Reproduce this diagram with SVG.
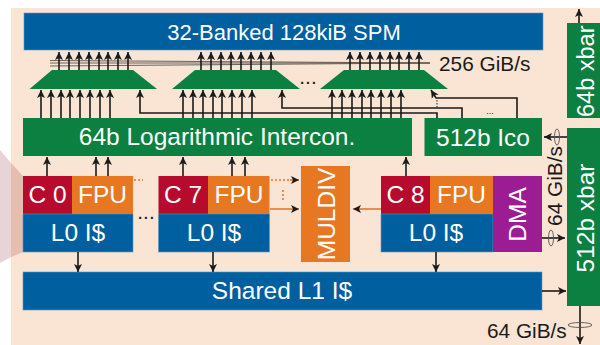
<svg xmlns="http://www.w3.org/2000/svg" width="600" height="345" viewBox="0 0 600 345">
<style>
text{font-family:"Liberation Sans",Arial,sans-serif;fill:#fff;font-size:24.5px;text-anchor:middle}
.l{fill:#1a1a1a;font-size:20.8px}
.b{fill:#005f9e;stroke:#5b9ac0;stroke-width:.6}.g{fill:#0b8040}.r{fill:#b70b2d}.o{fill:#e87722}.p{fill:#9c1c94}
.c line,.c path{fill:none;stroke:#1a1a1a;stroke-width:1.6}
.c .u{marker-end:url(#a)}
.c .t{stroke:#555;stroke-width:.9}
.c .or{stroke:#e87722;marker-end:url(#a)}
.c .do{stroke:#e87722;stroke-dasharray:2 2}
.c .dk{stroke-dasharray:1.5 1.5;stroke-width:1}
.c ellipse{fill:none;stroke:#555;stroke-width:.9}
</style>
<defs>
<marker id="a" markerUnits="userSpaceOnUse" markerWidth="10" markerHeight="10" refX="8" refY="5" orient="auto"><path d="M0 1L8 5L0 9L2 5Z" fill="#1a1a1a"/></marker>
</defs>
<rect x="11" y="8" width="589" height="337" fill="#fae4d4"/>
<path d="M0 150L11 163V257L0 263Z" fill="#e8d3d6"/>
<path d="M11 163L23 176V252L11 257Z" fill="#e7bdb0"/>
<g id="spm"><rect class="b" x="24" y="13" width="519" height="37"/><text x="284" y="40" style="font-size:22px">32-Banked 128kiB SPM</text></g>
<g id="mux1"><path class="g" d="M29.500 89H157L133 70H52Z"/></g>
<g id="mux2"><path class="g" d="M172 89H300L276 70H195Z"/></g>
<g id="mux3"><path class="g" d="M320 89H448L424 70H344Z"/></g>
<g id="intercon"><rect class="g" x="23" y="118" width="389" height="38"/><text x="217" y="144.500">64b Logarithmic Intercon.</text></g>
<g id="ico"><rect class="g" x="424.500" y="118" width="117.500" height="38"/><text x="483" y="146">512b Ico</text></g>
<g id="xbar64"><rect class="g" x="567" y="23" width="33" height="95"/><text transform="translate(594 117) rotate(-90)" style="text-anchor:start;font-size:23.5px">64b xbar</text></g>
<g id="xbar512"><rect class="g" x="567" y="128" width="33" height="178"/><text transform="translate(594 218) rotate(-90)">512b xbar</text></g>
<g id="core0"><rect class="r" x="23" y="176" width="49" height="38"/><rect class="o" x="72" y="176" width="61" height="38"/><rect class="b" x="23" y="214" width="110" height="38"/><text x="47.500" y="203">C 0</text><text x="102.500" y="203">FPU</text><text x="78" y="241">L0 I$</text></g>
<g id="core7"><rect class="r" x="158.500" y="176" width="49.500" height="38"/><rect class="o" x="208" y="176" width="61.500" height="38"/><rect class="b" x="158.500" y="214" width="111" height="38"/><text x="183" y="203">C 7</text><text x="239" y="203">FPU</text><text x="214" y="241">L0 I$</text></g>
<g id="core8"><rect class="r" x="381" y="176" width="49" height="38"/><rect class="o" x="430" y="176" width="63" height="38"/><rect class="b" x="381" y="214" width="112" height="38"/><text x="405.500" y="203">C 8</text><text x="461.500" y="203">FPU</text><text x="436" y="241">L0 I$</text></g>
<g id="dma"><rect class="p" x="493" y="176" width="49" height="76"/><text transform="translate(526 214.500) rotate(-90)">DMA</text></g>
<g id="muldiv"><rect class="o" x="301" y="166" width="49" height="96"/><text transform="translate(335 214) rotate(-90)">MULDIV</text></g>
<g id="shared"><rect class="b" x="23" y="272" width="519" height="38"/><text x="282" y="299">Shared L1 I$</text></g>
<g id="connectors" class="c">
<line class="t" x1="50" y1="60.500" x2="430" y2="63"/><line class="t" x1="50" y1="66" x2="430" y2="63"/><line class="t" x1="50" y1="63" x2="430" y2="63"/>
<path class="u" d="M59 70V52"/><path class="u" d="M69 70V52"/><path class="u" d="M79 70V52"/><path class="u" d="M89 70V52"/><path class="u" d="M99 70V52"/><path class="u" d="M108 70V52"/><path class="u" d="M118 70V52"/><path class="u" d="M128 70V52"/>
<path class="u" d="M201 70V52"/><path class="u" d="M211 70V52"/><path class="u" d="M221 70V52"/><path class="u" d="M231 70V52"/><path class="u" d="M241 70V52"/><path class="u" d="M251 70V52"/><path class="u" d="M261 70V52"/><path class="u" d="M271 70V52"/>
<path class="u" d="M350 70V52"/><path class="u" d="M360 70V52"/><path class="u" d="M370 70V52"/><path class="u" d="M380 70V52"/><path class="u" d="M390 70V52"/><path class="u" d="M399 70V52"/><path class="u" d="M409 70V52"/><path class="u" d="M419 70V52"/>
<path class="u" d="M41 118V90"/><path class="u" d="M51 118V90"/><path class="u" d="M61 118V90"/><path class="u" d="M70 118V90"/><path class="u" d="M80 118V90"/><path class="u" d="M90 118V90"/><path class="u" d="M100 118V90"/><path class="u" d="M110 118V90"/>
<path class="u" d="M183 118V90"/><path class="u" d="M193 118V90"/><path class="u" d="M203 118V90"/><path class="u" d="M213 118V90"/><path class="u" d="M222 118V90"/><path class="u" d="M232 118V90"/><path class="u" d="M242 118V90"/><path class="u" d="M252 118V90"/>
<path class="u" d="M332 118V90"/><path class="u" d="M342 118V90"/><path class="u" d="M352 118V90"/><path class="u" d="M362 118V90"/><path class="u" d="M371 118V90"/><path class="u" d="M381 118V90"/><path class="u" d="M391 118V90"/><path class="u" d="M401 118V90"/>
<path class="u" d="M437 118V113H140V90"/><path class="u" d="M462 118V108H282V90"/>
<path class="u" d="M517 118V98H436L431 90"/>
<line class="dk" x1="437" y1="100" x2="437" y2="108"/>
<path class="u" d="M47 176V157"/><path class="u" d="M96 176V157"/><path class="u" d="M108 176V157"/>
<path class="u" d="M183 176V157"/><path class="u" d="M232 176V157"/><path class="u" d="M245 176V157"/>
<path class="u" d="M406 176V157"/>
<path class="u" d="M78 252V272"/><path class="u" d="M213 252V272"/><path class="u" d="M436 252V272"/>
<line class="do" x1="134" y1="180" x2="143" y2="180"/>
<line class="do" x1="271" y1="180" x2="290" y2="180"/><line class="or" x1="290" y1="180" x2="299" y2="180"/>
<line class="or" x1="270" y1="209" x2="299" y2="209"/>
<line class="do" x1="283" y1="190" x2="283" y2="200"/>
<line class="or" x1="381" y1="209" x2="353" y2="209"/>
<line class="u" x1="567" y1="137" x2="544" y2="137"/><ellipse cx="557" cy="137" rx="2.500" ry="8"/>
<line class="u" x1="579" y1="23" x2="579" y2="9"/>
<line class="u" x1="542" y1="238" x2="565" y2="238"/><ellipse cx="551" cy="238" rx="2.500" ry="8"/>
<line class="u" x1="542" y1="291" x2="566" y2="291"/>
<line class="u" x1="580" y1="306" x2="580" y2="344"/><ellipse cx="580" cy="325" rx="12" ry="2.500"/>
</g>
<g id="labels">
<text class="l" x="439" y="71" style="text-anchor:start">256 GiB/s</text>
<text class="l" x="487" y="338" style="text-anchor:start">64 GiB/s</text>
<text class="l" transform="translate(562 186) rotate(-90)">64 GiB/s</text>
<text class="l" x="146" y="219">...</text>
<text class="l" x="308" y="84">...</text>
<text class="l" x="490" y="114" style="font-size:9px">...</text>
</g>
</svg>
